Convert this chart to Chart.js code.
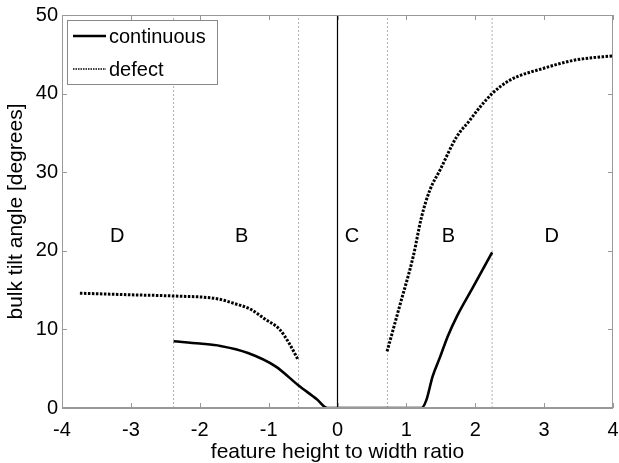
<!DOCTYPE html>
<html>
<head>
<meta charset="utf-8">
<script src="https://cdn.jsdelivr.net/npm/chart.js@4.4.0/dist/chart.umd.min.js"></script>
<style>
  html, body { margin: 0; padding: 0; background: #fff; }
  #wrap { width: 619px; height: 463px; }
</style>
</head>
<body>
<div id="wrap"><canvas id="grafico"></canvas></div>
<script>
// datos
var contX = [-2.38, -2.0, -1.7, -1.3, -0.9, -0.57, -0.3, -0.15, 0, 0.5, 1.0, 1.22, 1.29, 1.38, 1.49, 1.6, 1.73, 1.97, 2.245];
var contY = [8.5, 8.2, 7.9, 7.0, 5.3, 2.9, 1.1, 0, 0, 0, 0, 0, 1.0, 4.0, 6.5, 9.1, 11.6, 15.4, 19.8];

var defIzqX = [-3.74, -3.0, -2.38, -1.75, -1.5, -1.27, -1.05, -0.84, -0.7, -0.57];
var defIzqY = [14.6, 14.4, 14.25, 13.9, 13.3, 12.6, 11.3, 10.0, 8.2, 6.1];

var defDerX = [0.72, 0.9, 1.1, 1.22, 1.34, 1.49, 1.73, 1.92, 2.07, 2.245, 2.5, 2.985, 3.47, 4.0];
var defDerY = [7.2, 12.9, 19.3, 24.3, 27.7, 30.3, 34.5, 36.6, 38.3, 40.0, 41.7, 43.2, 44.3, 44.8];

var limites = [-2.38, -0.565, 0.725, 2.245];
var regiones = ['D', 'B', 'C', 'B', 'D'];
var regionX = [-3.2, -1.39, 0.21, 1.61, 3.11];
var regionY = 21.8;

var ticksX = [-4, -3, -2, -1, 0, 1, 2, 3, 4];
var ticksY = [0, 10, 20, 30, 40, 50];

var fuente = '"Liberation Sans", Arial, sans-serif';

function puntos(xs, ys) {
    var out = [];
    for (var i = 0; i < xs.length; i++) out.push({x: xs[i], y: ys[i]});
    return out;
}

var datasets = [
    {
        label: 'continuous',
        data: puntos(contX, contY),
        borderColor: '#000',
        borderWidth: 2.6,
        cubicInterpolationMode: 'monotone'
    },
    {
        label: 'defect',
        data: puntos(defIzqX, defIzqY),
        borderColor: '#000',
        borderWidth: 3,
        borderDash: [2.5, 1.5],
        cubicInterpolationMode: 'monotone'
    },
    {
        label: 'defect',
        data: puntos(defDerX, defDerY),
        borderColor: '#000',
        borderWidth: 3,
        borderDash: [2.5, 1.5],
        cubicInterpolationMode: 'monotone'
    },
    {
        label: 'cero',
        data: [{x: 0, y: 0}, {x: 0, y: 50}],
        borderColor: '#000',
        borderWidth: 1.2
    }
];
limites.forEach(function (lx) {
    datasets.push({
        label: 'limite',
        data: [{x: lx, y: 0}, {x: lx, y: 50}],
        borderColor: '#b0b0b0',
        borderWidth: 1,
        borderDash: [2, 2]
    });
});

// marco, ticks hacia adentro, letras de region y leyenda
var extras = {
    id: 'extras',
    afterDraw: function (chart) {
        var ctx = chart.ctx;
        var a = chart.chartArea;
        var sx = chart.scales.x, sy = chart.scales.y;
        ctx.save();

        ctx.fillStyle = '#000';
        ctx.font = '20px ' + fuente;
        ctx.textAlign = 'center';
        ctx.textBaseline = 'middle';
        for (var i = 0; i < regiones.length; i++) {
            ctx.fillText(regiones[i], sx.getPixelForValue(regionX[i]), sy.getPixelForValue(regionY));
        }

        ctx.strokeStyle = '#999';
        ctx.lineWidth = 1;
        ctx.strokeRect(Math.round(a.left) + 0.5, Math.round(a.top) + 0.5,
            Math.round(a.right - a.left) - 1, Math.round(a.bottom - a.top));
        ctx.lineWidth = 2;
        ctx.beginPath();
        ctx.moveTo(a.left, Math.round(a.bottom));
        ctx.lineTo(a.right, Math.round(a.bottom));
        ctx.stroke();

        ctx.lineWidth = 1;
        ctx.beginPath();
        ticksX.forEach(function (v) {
            var px = Math.round(sx.getPixelForValue(v)) + 0.5;
            ctx.moveTo(px, a.bottom); ctx.lineTo(px, a.bottom - 5);
            ctx.moveTo(px, a.top); ctx.lineTo(px, a.top + 5);
        });
        ticksY.forEach(function (v) {
            var py = Math.round(sy.getPixelForValue(v)) + 0.5;
            ctx.moveTo(a.left, py); ctx.lineTo(a.left + 5, py);
            ctx.moveTo(a.right, py); ctx.lineTo(a.right - 5, py);
        });
        ctx.stroke();

        // leyenda
        var lx = Math.round(a.left) + 5, ly = Math.round(a.top) + 5;
        ctx.fillStyle = '#fff';
        ctx.fillRect(lx, ly, 150, 64);
        ctx.strokeStyle = '#888';
        ctx.strokeRect(lx + 0.5, ly + 0.5, 150, 64);
        var filas = [datasets[0], datasets[1]];
        filas.forEach(function (ds, k) {
            var yy = ly + 16 + k * 33;
            ctx.strokeStyle = '#000';
            ctx.lineWidth = k === 0 ? 2.6 : 1.5;
            ctx.setLineDash(k === 0 ? [] : [1.5, 1]);
            ctx.beginPath();
            ctx.moveTo(lx + 6, yy);
            ctx.lineTo(lx + 39, yy);
            ctx.stroke();
            ctx.setLineDash([]);
            ctx.fillStyle = '#000';
            ctx.font = '20px ' + fuente;
            ctx.textAlign = 'left';
            ctx.textBaseline = 'middle';
            ctx.fillText(ds.label, lx + 42, yy + 1);
        });
        ctx.restore();
    }
};

var grafico = new Chart(document.getElementById('grafico'), {
    type: 'scatter',
    data: { datasets: datasets },
    options: {
        responsive: true,
        maintainAspectRatio: false,
        animation: false,
        showLine: true,
        elements: { point: { radius: 0, hoverRadius: 0 } },
        layout: { padding: { top: 15, right: 6, left: 0, bottom: 0 } },
        plugins: { legend: { display: false }, tooltip: { enabled: false } },
        scales: {
            x: {
                type: 'linear',
                min: -4, max: 4,
                grid: { display: false, tickLength: 0 },
                border: { display: false },
                ticks: { stepSize: 1, color: '#000', padding: 10, font: { family: fuente, size: 20 } },
                title: { display: true, text: 'feature height to width ratio', color: '#000',
                         padding: 0, font: { family: fuente, size: 21, lineHeight: 1 } },
                afterFit: function (s) { s.height = 55; s.paddingLeft = 0; s.paddingRight = 0; }
            },
            y: {
                type: 'linear',
                min: 0, max: 50,
                grid: { display: false, tickLength: 0 },
                border: { display: false },
                ticks: { stepSize: 10, color: '#000', padding: 4, font: { family: fuente, size: 20 } },
                title: { display: true, text: 'bulk tilt angle [degrees]', color: '#000',
                         padding: { top: 6, bottom: 0 }, font: { family: fuente, size: 21, lineHeight: 1 } },
                afterFit: function (s) { s.width = 62; s.paddingTop = 0; s.paddingBottom = 0; }
            }
        }
    },
    plugins: [extras]
});
</script>
</body>
</html>
